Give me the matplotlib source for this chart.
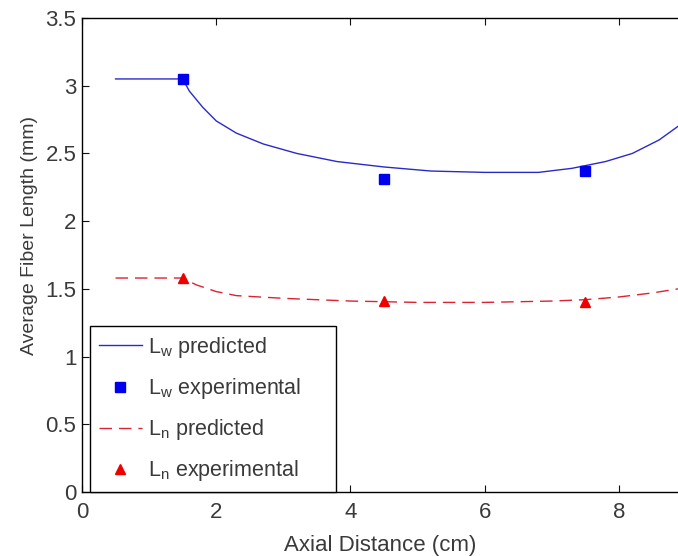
import matplotlib
matplotlib.use("Agg")
import matplotlib.pyplot as plt

plt.rcParams['font.family'] = ['Liberation Sans', 'DejaVu Sans']
plt.rcParams['mathtext.fontset'] = 'custom'
plt.rcParams['mathtext.rm'] = 'Liberation Sans'
plt.rcParams['mathtext.it'] = 'Liberation Sans'

# Predicted curves
lw_pred_x = [0.5, 1.5, 1.6, 1.8, 2.0, 2.3, 2.7, 3.2, 3.8, 4.5, 5.2, 6.0, 6.8, 7.3, 7.8, 8.2, 8.6, 8.88]
lw_pred_y = [3.05, 3.05, 2.96, 2.84, 2.74, 2.65, 2.57, 2.50, 2.44, 2.40, 2.37, 2.36, 2.36, 2.39, 2.44, 2.50, 2.60, 2.70]
ln_pred_x = [0.5, 1.5, 1.7, 2.0, 2.3, 3.0, 4.0, 5.0, 6.0, 7.0, 7.5, 8.0, 8.5, 8.88]
ln_pred_y = [1.58, 1.58, 1.53, 1.48, 1.45, 1.43, 1.41, 1.40, 1.40, 1.41, 1.42, 1.44, 1.47, 1.50]

# Experimental points
exp_x = [1.5, 4.5, 7.5]
lw_exp_y = [3.05, 2.31, 2.37]
ln_exp_y = [1.58, 1.41, 1.40]

xticks = [0, 2, 4, 6, 8]
yticks = [0, 0.5, 1, 1.5, 2, 2.5, 3, 3.5]
ytick_labels = ['0', '0.5', '1', '1.5', '2', '2.5', '3', '3.5']

TXT = '#3a3a3a'

fig = plt.figure(figsize=(6.78, 5.56), dpi=100)
ax = fig.add_axes([82/678, 1-492/556, 1-82/678, (492-18)/556])

ax.plot(lw_pred_x, lw_pred_y, color='#2a2acc', lw=1.0, label=r'L$_{\mathrm{w}}$ predicted')
ax.plot(exp_x, lw_exp_y, 's', color='#0000ee', ms=6.5, ls='none', label=r'L$_{\mathrm{w}}$ experimental')
ax.plot(ln_pred_x, ln_pred_y, color='#dd2233', lw=1.0, dashes=(9, 5), label=r'L$_{\mathrm{n}}$ predicted')
ax.plot(exp_x, ln_exp_y, '^', color='#ee0000', ms=6.5, ls='none', label=r'L$_{\mathrm{n}}$ experimental')

ax.set_xlim(0, 8.88)
ax.set_ylim(0, 3.5)
ax.set_xticks(xticks)
ax.set_yticks(yticks)
ax.set_yticklabels(ytick_labels)
ax.tick_params(direction='in', length=5, top=True, right=False, labelsize=16,
               color='#111111', labelcolor=TXT)
ax.tick_params(axis='x', pad=7)
ax.tick_params(axis='y', pad=4)
ax.spines['right'].set_visible(False)
for s in ['left', 'bottom', 'top']:
    ax.spines[s].set_linewidth(1.0)

ax.set_xlabel('Axial Distance (cm)', fontsize=16, color=TXT, labelpad=9)
ax.set_ylabel('Average Fiber Length (mm)', fontsize=14, color=TXT)
ax.yaxis.set_label_coords(-0.074, 0.542)

leg = ax.legend(loc='lower left', bbox_to_anchor=(8/596, 0.0, 246/596, 0.3), mode='expand',
                borderaxespad=0, fontsize=15.5, fancybox=False, edgecolor='black', framealpha=1,
                handlelength=2.0, labelspacing=0.75, handletextpad=0.28, borderpad=0.4)
leg.get_frame().set_linewidth(1.0)
for t in leg.get_texts():
    t.set_color(TXT)

fig.savefig('out.png', dpi=100)
